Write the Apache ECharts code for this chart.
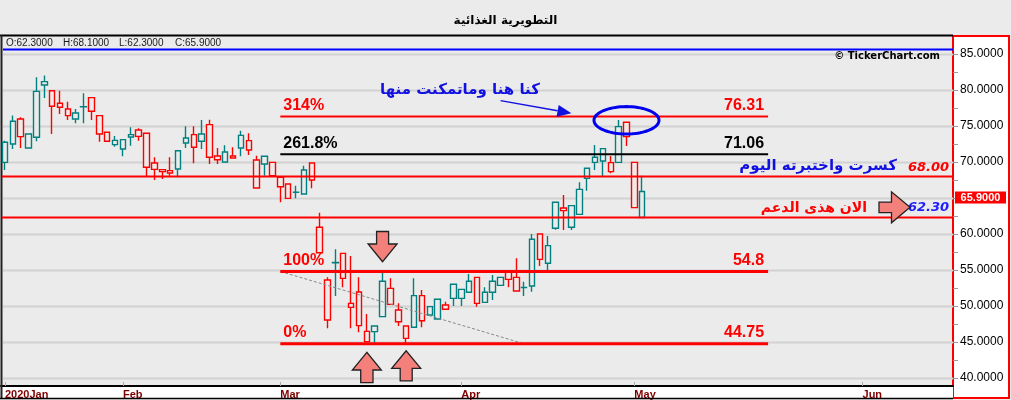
<!DOCTYPE html>
<html><head><meta charset="utf-8">
<script src="https://cdn.jsdelivr.net/npm/echarts@6/dist/echarts.min.js"></script>
<style>html,body{margin:0;padding:0;background:#ebebeb}#c{width:1011px;height:400px}</style>
</head><body><div id="c"></div>
<script>
// ---- data ----
const opens  = [69.95,72.5,75.97,71.94,73.43,81.16,79.9,78.15,77.36,75.97,77.65,78.94,76.44,74.12,72.41,71.8,73.47,74.44,73.98,69.86,
                68.66,68.47,69.03,72.64,73.8,72.87,75.19,70.83,70.0,70.56,71.94,72.96,66.39,69.72,69.95,67.87,66.94,65.82,65.56,69.86,
                60.93,48.06,56.05,57.31,50.37,51.94,46.48,47.22,48.52,50.23,49.44,47.22,47.04,51.44,48.75,48.19,50.14,53.01,51.06,51.9,
                53.98,50.51,51.9,52.87,54.77,53.98,52.58,52.78,60.0,55.93,60.79,63.61,60.93,62.73,67.73,69.95,70.14,68.66,69.95,75.51,
                69.95,62.3];
const closes = [72.73,75.65,73.52,73.89,79.81,80.69,77.73,77.6,76.44,76.8,77.69,77.04,73.89,72.87,73.0,73.1,73.8,73.56,69.26,68.98,
                68.94,68.8,71.57,73.33,72.04,73.89,70.65,70.32,71.39,70.83,73.7,71.67,70.28,70.79,68.1,66.57,64.95,65.79,68.89,67.5,
                57.4,53.61,56.0,53.84,49.81,47.27,45.05,46.44,53.43,52.45,47.82,45.51,51.44,47.96,49.91,50.93,49.54,51.06,52.31,53.43,
                50.37,51.9,53.43,53.98,53.7,52.08,52.55,59.26,56.48,58.38,64.4,63.24,63.94,66.2,69.12,70.65,71.85,69.91,74.91,73.52,
                63.66,65.9];
const lows   = [68.9,71.8,71.94,71.94,72.87,78.9,73.9,76.67,75.83,75.37,75.37,75.83,72.82,72.87,72.13,70.79,72.27,72.96,67.96,67.5,
                67.64,68.1,67.87,71.94,69.81,71.8,69.72,69.72,70.0,70.56,70.79,70.97,66.39,68.1,68.1,64.4,64.95,64.95,65.56,66.34,
                57.4,46.9,51.39,52.59,46.9,46.34,45.05,44.91,48.52,50.23,47.22,44.81,47.04,47.04,48.75,48.19,49.54,50.0,50.0,51.9,
                49.91,50.51,50.83,52.87,52.59,52.08,51.39,51.99,55.56,54.91,60.6,60.56,60.56,62.73,66.02,68.89,68.06,68.43,69.95,72.22,
                63.66,62.3];
const highs  = [72.96,76.44,76.2,73.89,81.76,82.0,79.9,79.9,78.38,77.36,79.54,78.94,76.44,74.12,73.6,73.1,74.81,74.68,73.98,70.65,
                68.94,70.65,71.57,74.95,74.95,75.83,75.88,71.94,72.31,72.04,74.35,73.98,70.88,70.79,69.95,67.87,66.94,66.7,69.49,69.86,
                62.96,53.98,57.87,57.31,56.94,53.98,48.89,47.22,54.63,53.84,50.37,47.22,53.84,52.22,49.91,50.93,50.6,53.01,52.31,54.44,
                53.98,52.59,54.31,53.98,54.77,56.62,53.38,60.0,60.0,59.72,64.4,65.42,63.94,67.18,69.12,72.36,71.85,70.83,75.83,75.51,
                69.95,68.1];
const monthIdx    = [0, 15, 35, 58, 80, 109];
const monthLabels = ['2020Jan','Feb','Mar','Apr','May','Jun'];
const yLabelValues = [40,45,50,55,60,65,70,75,80,85];
const yTickValues  = [40,42.5,45,47.5,50,52.5,55,57.5,60,62.5,65,67.5,70,72.5,75,77.5,80,82.5,85];
const fibLevels = [76.31, 71.06, 54.8, 44.75];
const fibPct    = ['314%','261.8%','100%','0%'];
const fibText   = ['76.31','71.06','54.8','44.75'];
const supportLevels = [68.00, 62.30];
const supportText   = ['68.00','62.30'];
const ohlcHeader = ['O:62.3000','H:68.1000','L:62.3000','C:65.9000'];
const lastPrice = 65.9;
const N_CATS = 121;

// ---- styles / layout ----
const TEAL='#008080', RED='#ff0000', BG='#ebebeb';
const PL=1, PR=953, PT=49, PB=386;
const cats = Array.from({length:N_CATS}, (_, i) => 'd' + i);

const candleData = opens.map((o, i) => {
  const c = closes[i], prev = i ? closes[i-1] : o;
  const col = c >= prev ? TEAL : RED;
  return {value:[o, c, lows[i], highs[i]],
          itemStyle:{color:BG, color0:col, borderColor:col, borderColor0:col}};
});

const chart = echarts.init(document.getElementById('c'), null, {renderer:'canvas'});
const isMonth = (i) => monthIdx.indexOf(i) >= 0;
chart.setOption({
  animation:false,
  backgroundColor:BG,
  title:{text:'التطويرية الغذائية', left:'center', top:10,
         textStyle:{fontFamily:'DejaVu Sans', fontSize:12, fontWeight:'bold', color:'#000'}},
  grid:{left:PL, right:1011-PR, top:PT, bottom:400-PB},
  xAxis:{type:'category', data:cats, boundaryGap:true,
    axisLine:{show:true, lineStyle:{color:'#000', width:2}},
    axisTick:{show:true, inside:true, length:4, alignWithLabel:true, interval:(i)=>isMonth(i), lineStyle:{color:'#aaa', width:1}},
    axisLabel:{interval:(i)=>isMonth(i), formatter:(v, i)=>monthLabels[monthIdx.indexOf(i)] || '',
      align:'left', margin:3, fontFamily:'Liberation Sans', fontWeight:'bold', fontSize:11, color:'#800000'},
    splitLine:{show:false}},
  yAxis:{type:'value', position:'right', min:38.89, max:85.69,
    axisLine:{show:false},
    axisTick:{show:true, length:5, customValues:yTickValues, lineStyle:{color:'#999'}},
    axisLabel:{customValues:yLabelValues, formatter:(v)=>Number(v).toFixed(4), margin:7,
      fontFamily:'Liberation Sans', fontSize:12, color:'#000'},
    splitLine:{show:false}},
  series:[{type:'candlestick', data:candleData, barWidth:6, z:5,
           itemStyle:{borderWidth:1.4}}]
});

// ---- annotations positioned through the chart's scales ----
const P = (i, v) => chart.convertToPixel({gridIndex:0}, [i, v]);
const Y = (v) => P(0, v)[1];
const g = [];
// backgrounds and frame
g.push({type:'rect', z:-10, shape:{x:PR, y:36, width:56, height:362}, style:{fill:'#fff', stroke:RED, lineWidth:2}});
g.push({type:'rect', z:-10, shape:{x:2, y:PB, width:PR-2, height:12}, style:{fill:'#fff'}});
g.push({type:'line', z:1, shape:{x1:0, y1:35.5, x2:PR, y2:35.5}, style:{stroke:'#000', lineWidth:2}});
g.push({type:'line', z:1, shape:{x1:1.5, y1:35, x2:1.5, y2:399}, style:{stroke:'#222', lineWidth:2}});
g.push({type:'line', z:1, shape:{x1:0, y1:398.5, x2:PR, y2:398.5}, style:{stroke:'#000', lineWidth:1.5}});
g.push({type:'line', z:1, shape:{x1:3, y1:49.5, x2:PR, y2:49.5}, style:{stroke:'#0000ff', lineWidth:2}});
// gridlines
yLabelValues.forEach(v => {
  const y = Math.round(Y(v)) + 0.5;
  g.push({type:'line', z:1, shape:{x1:3, y1:y, x2:PR, y2:y}, style:{stroke:'#d2d2d2', lineWidth:2}});
});
// header text
const hx = [6, 63, 119, 175];
ohlcHeader.forEach((t, k) => g.push({type:'text', z:3, x:hx[k], y:43,
  style:{text:t, fontFamily:'Liberation Sans', fontSize:10, fill:'#1a1a1a', verticalAlign:'middle'}}));
g.push({type:'text', z:3, x:940, y:56, style:{text:'© TickerChart.com', fontFamily:'DejaVu Sans', fontWeight:'bold', fontSize:10, fill:'#000', align:'right', verticalAlign:'middle'}});
// fib levels
const fibStart = 35, fibEnd = 97;
const fibColors = [RED, '#000', RED, RED];
const fibWidth = [2, 2, 3, 3];
fibLevels.forEach((v, k) => {
  const [x1, y] = P(fibStart, v), x2 = P(fibEnd, v)[0];
  g.push({type:'line', z:10, shape:{x1:x1, y1:y, x2:x2, y2:y}, style:{stroke:fibColors[k], lineWidth:fibWidth[k]}});
  g.push({type:'text', z:10, x:x1+3, y:y-11, style:{text:fibPct[k], fontFamily:'Liberation Sans', fontWeight:'bold', fontSize:16, fill:fibColors[k], verticalAlign:'middle'}});
  g.push({type:'text', z:10, x:x2-4, y:y-11, style:{text:fibText[k], fontFamily:'Liberation Sans', fontWeight:'bold', fontSize:16, fill:fibColors[k], align:'right', verticalAlign:'middle'}});
});
// support lines
supportLevels.forEach((v) => {
  const y = Y(v);
  g.push({type:'line', z:10, shape:{x1:2, y1:y, x2:PR, y2:y}, style:{stroke:RED, lineWidth:2}});
});
const y68 = Y(supportLevels[0]), y62 = Y(supportLevels[1]);
g.push({type:'text', z:11, x:PR-4, y:y68-9, style:{text:supportText[0], fontFamily:'DejaVu Sans', fontWeight:'bold', fontStyle:'italic', fontSize:13, fill:RED, align:'right', verticalAlign:'middle'}});
g.push({type:'text', z:11, x:PR-4, y:y62-10, style:{text:supportText[1], fontFamily:'DejaVu Sans', fontWeight:'bold', fontStyle:'italic', fontSize:13, fill:'#2020ff', align:'right', verticalAlign:'middle'}});
g.push({type:'text', z:11, x:PR-56, y:y68-10, style:{text:'كسرت واختبرته اليوم', fontFamily:'DejaVu Sans', fontWeight:'bold', fontSize:15, fill:'#1010e0', align:'right', verticalAlign:'middle'}});
g.push({type:'text', z:11, x:PR-86, y:y62-9, style:{text:'الان هذى الدعم', fontFamily:'DejaVu Sans', fontWeight:'bold', fontSize:14, fill:RED, align:'right', verticalAlign:'middle'}});
// block arrows
function arrow(tx, ty, dir, hw, hh, sw, sl) {
  let pts;
  if (dir === 'down') {
    const b = ty - hh;
    pts = [[tx, ty], [tx - hw/2, b], [tx - sw/2, b], [tx - sw/2, b - sl], [tx + sw/2, b - sl], [tx + sw/2, b], [tx + hw/2, b]];
  } else if (dir === 'up') {
    const b = ty + hh;
    pts = [[tx, ty], [tx - hw/2, b], [tx - sw/2, b], [tx - sw/2, b + sl], [tx + sw/2, b + sl], [tx + sw/2, b], [tx + hw/2, b]];
  } else {
    const b = tx - hh;
    pts = [[tx, ty], [b, ty - hw/2], [b, ty - sw/2], [b - sl, ty - sw/2], [b - sl, ty + sw/2], [b, ty + sw/2], [b, ty + hw/2]];
  }
  return {type:'polygon', z:12, shape:{points:pts}, style:{fill:'#f4807c', stroke:'#222', lineWidth:1.3}};
}
const dTip = P(48, 56.15), u1 = P(45.98, 43.57), u2 = P(51.06, 43.79);
g.push(arrow(dTip[0], dTip[1], 'down', 29, 17.7, 12, 12.5));
g.push(arrow(u1[0], u1[1], 'up', 29, 17.7, 12.3, 12.7));
g.push(arrow(u2[0], u2[1], 'up', 29, 17.7, 12, 12.5));
g.push(arrow(PR-43, Y(63.7), 'right', 31, 18.5, 10.5, 12.5));
// dashed trend line
const d1 = P(35, 54.8), d2 = P(65.5, 44.75);
g.push({type:'line', z:9, shape:{x1:d1[0], y1:d1[1], x2:d2[0], y2:d2[1]}, style:{stroke:'#888', lineWidth:1, lineDash:[3,2]}});
// ellipse
const ec = P(79.1, 75.79), erx = 32.5, ery = 13.7;
const ep = [];
for (let k = 0; k < 72; k++) { const a = k / 72 * Math.PI * 2; ep.push([ec[0] + erx*Math.cos(a), ec[1] + ery*Math.sin(a)]); }
g.push({type:'polygon', z:12, shape:{points:ep}, style:{fill:null, stroke:'#0000ee', lineWidth:3}});
// pointer arrow
const a1 = P(63.0, 78.52), a2 = P(72.0, 76.76);
const ang = Math.atan2(a2[1]-a1[1], a2[0]-a1[0]);
const hl = 14, hwid = 6;
const bx = a2[0] - hl*Math.cos(ang), by = a2[1] - hl*Math.sin(ang);
g.push({type:'line', z:12, shape:{x1:a1[0], y1:a1[1], x2:bx, y2:by}, style:{stroke:'#1010e0', lineWidth:1.5}});
g.push({type:'polygon', z:12, shape:{points:[[a2[0], a2[1]], [bx - hwid*Math.sin(ang), by + hwid*Math.cos(ang)], [bx + hwid*Math.sin(ang), by - hwid*Math.cos(ang)]]}, style:{fill:'#1010e0'}});
const tpos = P(68.0, 80.0);
g.push({type:'text', z:12, x:tpos[0], y:tpos[1], style:{text:'كنا هنا وماتمكنت منها', fontFamily:'DejaVu Sans', fontWeight:'bold', fontSize:15, fill:'#1010e0', align:'right', verticalAlign:'middle'}});
// last price tag
const ty = Y(lastPrice);
g.push({type:'rect', z:12, shape:{x:955, y:ty, width:51, height:12}, style:{fill:RED}});
g.push({type:'text', z:13, x:980.5, y:ty+6.5, style:{text:lastPrice.toFixed(4), fontFamily:'Liberation Sans', fontWeight:'bold', fontSize:11, fill:'#fff', align:'center', verticalAlign:'middle'}});

chart.setOption({graphic:{elements:g}});
</script></body></html>
